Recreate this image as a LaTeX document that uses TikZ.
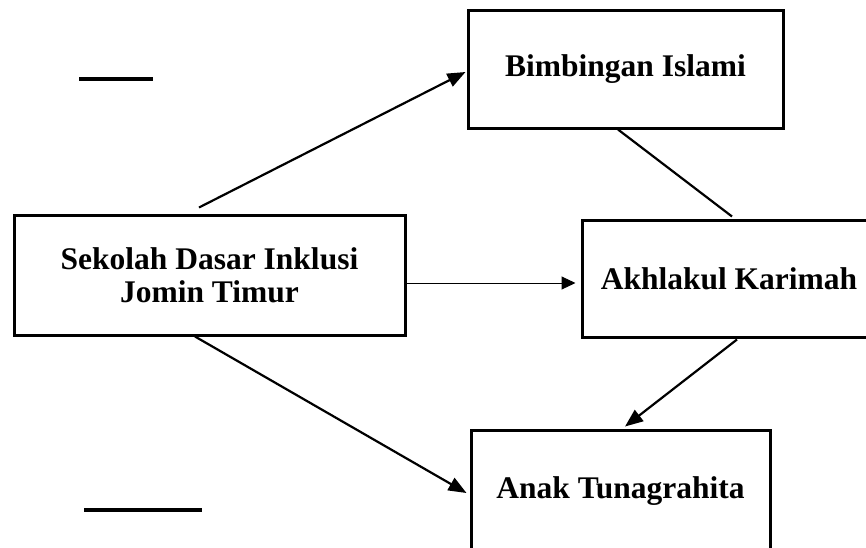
\documentclass[tikz,border=0pt]{standalone}
\usepackage{fontspec}
\setmainfont{Liberation Serif}
\usetikzlibrary{arrows.meta,calc}
\begin{document}
\begin{tikzpicture}[x=1pt,y=-1pt,
  boxnode/.style={draw=black,line width=3pt,rectangle,inner sep=0pt,align=center,
    font=\fontsize{31.5}{33}\selectfont\bfseries},
  conn/.style={line width=2.2pt,draw=black},
  arr/.style={conn,-{Triangle[length=18pt,width=14pt]}},
  thinarr/.style={line width=1pt,draw=black,-{Triangle[length=14pt,width=13pt]}},
  dashline/.style={line width=3.5pt,draw=black}]
\clip (0,0) rectangle (866,547);
\fill[white] (0,0) rectangle (866,547);

\node[boxnode,minimum width=315pt,minimum height=118pt] (b) at (625.5,69) {Bimbingan Islami};
\node[boxnode,minimum width=391pt,minimum height=120pt] (s) at (209.5,275) {Sekolah Dasar Inklusi\\Jomin Timur};
\node[boxnode,minimum width=294pt,minimum height=117pt] (a) at (729,278.5) {Akhlakul Karimah};
\node[boxnode,minimum width=299pt,minimum height=122pt] (t) at (620.5,491) {Anak Tunagrahita};

\draw[arr] ($(s.north)+(-10.5,-6)$) -- ($(b.west)+(-1,3)$);
\draw[thinarr] ($(s.east)+(0,8)$) -- ($(a.west)+(-5,4.5)$);
\draw[arr] ($(s.south)+(-14.5,0)$) -- ($(t.west)+(-3,2)$);
\draw[conn] ($(b.south)+(-7.5,0)$) -- ($(a.north)+(3,-2)$);
\draw[arr] ($(a.south)+(8,1)$) -- ($(t.north)+(4.5,-2)$);

\coordinate (l1a) at (79,79);
\coordinate (l1b) at (153,79);
\coordinate (l2a) at (84,510);
\coordinate (l2b) at (202,510);
\draw[dashline] (l1a) -- (l1b);
\draw[dashline] (l2a) -- (l2b);
\end{tikzpicture}
\end{document}
